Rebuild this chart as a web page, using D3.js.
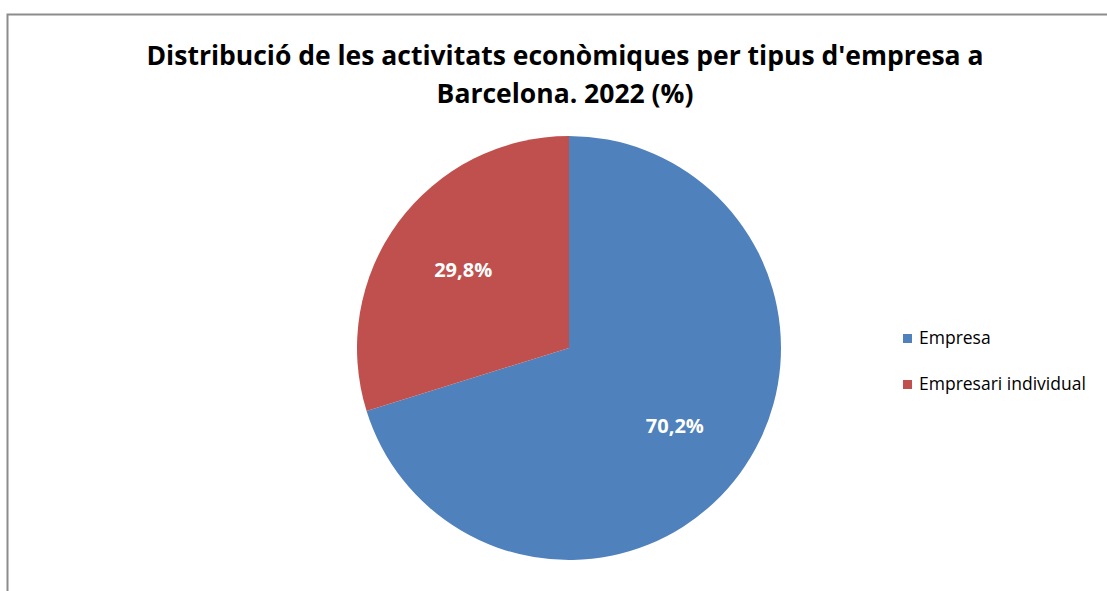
<!DOCTYPE html>
<html>
<head>
<meta charset="utf-8">
<script src="https://cdn.jsdelivr.net/npm/d3@7"></script>
<style>
  body { margin: 0; background: #fff; }
  svg { display: block; font-family: "Open Sans", Lato, sans-serif; }
</style>
</head>
<body>
<div id="container"></div>
<script>
var width = 1107, height = 591;

// data
var categories = ["Empresa", "Empresari individual"];
var values = [70.2, 29.8];
var colors = ["#4f81bd", "#c0504d"];
var titleLines = ["Distribució de les activitats econòmiques per tipus d'empresa a", "Barcelona. 2022 (%)"];

var fmt = v => d3.format(".1f")(v).replace(".", ",") + "%";

var svg = d3.select("#container").append("svg")
	.attr("width", width)
	.attr("height", height);

// chart frame
svg.append("path")
	.attr("d", "M7.5," + height + "V14.5H" + width)
	.attr("fill", "none")
	.attr("stroke", "#8c8c8c")
	.attr("stroke-width", 2);

// title
svg.append("text")
	.attr("text-anchor", "middle")
	.style("font-weight", "bold")
	.style("font-size", "26.5px")
	.attr("fill", "#000")
	.selectAll("tspan")
	.data(titleLines)
	.enter().append("tspan")
	.attr("x", 565)
	.attr("y", (d,i) => 65 + i*38)
	.text(d => d);

// pie
var cx = 569, cy = 348, r = 212;
var pie = d3.pie().sort(null).value(d => d.value);
var arc = d3.arc().innerRadius(0).outerRadius(r);
var labelArc = d3.arc().innerRadius(r*0.62).outerRadius(r*0.62);

var arcs = pie(categories.map((c,i) => ({name: c, value: values[i], color: colors[i]})));

var g = svg.append("g").attr("transform", "translate(" + cx + "," + cy + ")");

g.selectAll(".slice")
	.data(arcs)
	.enter().append("path")
	.attr("class", "slice")
	.attr("d", arc)
	.attr("fill", d => d.data.color);

g.selectAll(".lbl")
	.data(arcs)
	.enter().append("text")
	.attr("class", "lbl")
	.attr("transform", d => "translate(" + labelArc.centroid(d) + ")")
	.attr("text-anchor", "middle")
	.attr("dy", "0.35em")
	.style("font-weight", "bold")
	.style("font-size", "20px")
	.attr("fill", "#fff")
	.text(d => fmt(d.data.value));

// legend
var legend = svg.append("g").attr("transform", "translate(903,334)");
var item = legend.selectAll(".item")
	.data(categories)
	.enter().append("g")
	.attr("class", "item")
	.attr("transform", (d,i) => "translate(0," + i*46 + ")");

item.append("rect")
	.attr("width", 9)
	.attr("height", 9)
	.attr("fill", (d,i) => colors[i]);

item.append("text")
	.attr("x", 16)
	.attr("y", 10)
	.style("font-size", "17.5px")
	.attr("fill", "#000")
	.text(d => d);
</script>
</body>
</html>
